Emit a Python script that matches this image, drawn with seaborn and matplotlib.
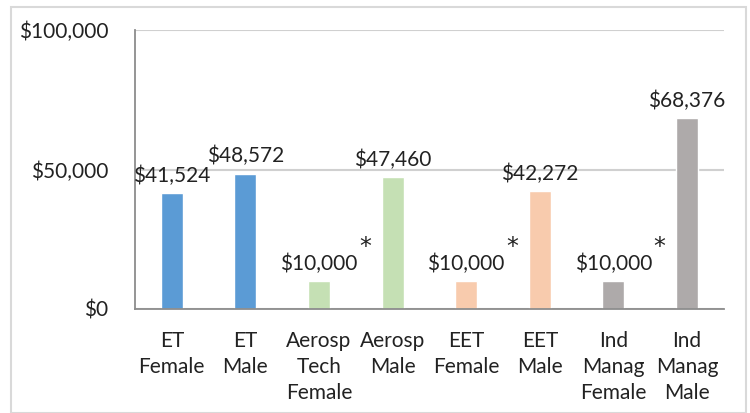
import matplotlib
matplotlib.use("Agg")
import matplotlib.pyplot as plt
import seaborn as sns
import pandas as pd
from matplotlib.patches import Rectangle

categories = ["ET\nFemale", "ET\nMale", "Aerosp\nTech\nFemale", "Aerosp\nMale",
              "EET\nFemale", "EET\nMale", "Ind\nManag\nFemale", "Ind\nManag\nMale"]
salaries = [41524, 48572, 10000, 47460, 10000, 42272, 10000, 68376]
starred = [False, False, True, False, True, False, True, False]
colors = ["#5B9BD5", "#5B9BD5", "#C5E0B4", "#C5E0B4",
          "#F8CBAD", "#F8CBAD", "#AEAAAA", "#AEAAAA"]

df = pd.DataFrame({"cat": categories, "salary": salaries})

sns.set_style("white")
plt.rcParams['font.family'] = ['Lato', 'DejaVu Sans']
fs = 15

fig = plt.figure(figsize=(7.5, 4.13), dpi=100)
ax = fig.add_axes([0.18, 0.252, 0.785, 0.675])
sns.barplot(data=df, x="cat", y="salary", hue="cat", palette=colors,
            width=0.3, dodge=False, legend=False, ax=ax, saturation=1)

ax.set_ylim(0, 100000)
ax.set_yticks([0, 50000, 100000])
ax.set_yticklabels(["$0", "$50,000", "$100,000"], fontsize=fs, color="#222222")
ax.tick_params(axis="y", length=0, pad=19)
ax.tick_params(axis="x", length=0, pad=16)
for lab in ax.get_xticklabels():
    lab.set_fontsize(fs)
    lab.set_color("#222222")
    lab.set_linespacing(1.38)
ax.set_xlabel("")
ax.set_ylabel("")
ax.set_xlim(-0.5, 7.5)
ax.grid(axis="y", color="#D0D0D0", linewidth=1.5)
ax.set_axisbelow(True)
for s in ["top", "right"]:
    ax.spines[s].set_visible(False)
ax.spines["left"].set_color("#8C8C8C")
ax.spines["bottom"].set_color("#8C8C8C")
ax.spines["left"].set_linewidth(1.3)
ax.spines["bottom"].set_linewidth(1.3)

for i, (v, st) in enumerate(zip(salaries, starred)):
    ax.annotate(f"${v:,}", (i, v), xytext=(0, 5), textcoords="offset points",
                ha="center", va="bottom", fontsize=fs, color="#222222")
    if st:
        ax.annotate("*", (i, v), xytext=(33, 33), textcoords="offset points",
                    ha="center", va="top", fontsize=17, color="#222222",
                    family="DejaVu Sans")

fig.patches.append(Rectangle((11 / 750, 0.0), 735 / 750, 1 - 7 / 413,
                             transform=fig.transFigure, fill=False,
                             edgecolor="#D9D9D9", linewidth=1.5))

fig.savefig("out.png", dpi=100)
